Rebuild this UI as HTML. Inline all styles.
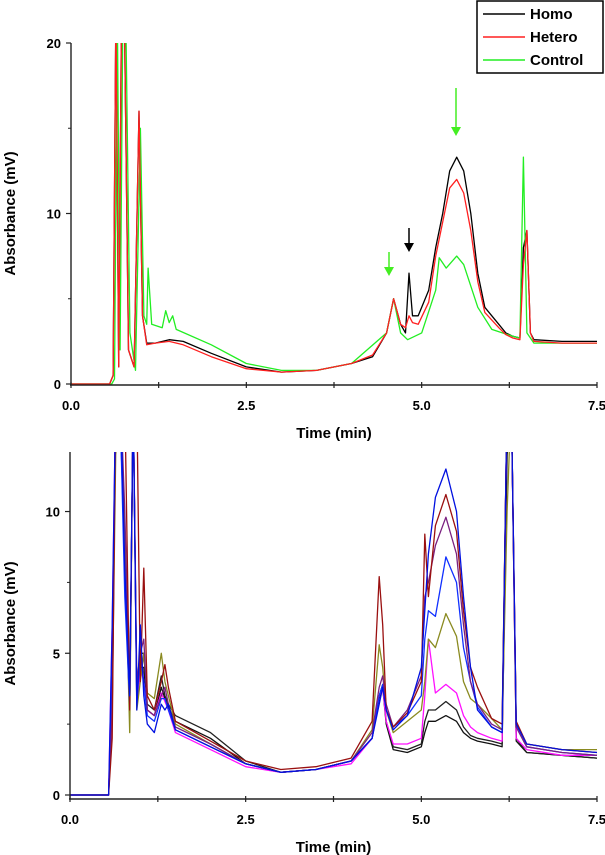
<!DOCTYPE html>
<html><head><meta charset="utf-8"><style>
html,body{margin:0;padding:0;background:#fff;}
svg{display:block;font-family:"Liberation Sans",sans-serif;}
</style></head><body>
<svg id="chart" width="605" height="855" viewBox="0 0 605 855" xmlns="http://www.w3.org/2000/svg"></svg>
<script>
// ---- Top chart data ----
const topSeriesNames = ["Homo","Hetero","Control"];
const homoT =   [0,0.55,0.6,0.64,0.68,0.72,0.76,0.82,0.9,0.97,1.02,1.08,1.2,1.4,1.6,2.0,2.5,3.0,3.5,4.0,4.3,4.5,4.6,4.7,4.77,4.82,4.87,4.95,5.1,5.2,5.3,5.4,5.5,5.6,5.7,5.8,5.9,6.1,6.2,6.3,6.4,6.45,6.5,6.55,6.6,7.0,7.5];
const homoV =   [0,0,0.5,22,1,22,22,2,1,16,4,2.4,2.4,2.6,2.5,1.8,1.0,0.7,0.8,1.2,1.6,3.0,5.0,3.5,3.0,6.5,4.0,4.0,5.5,8,10,12.5,13.3,12.5,10,6.5,4.5,3.5,3.0,2.8,2.7,8,9,3,2.6,2.5,2.5];
const heteroT = [0,0.55,0.6,0.64,0.68,0.72,0.76,0.82,0.9,0.97,1.02,1.08,1.2,1.4,1.6,2.0,2.5,3.0,3.5,4.0,4.3,4.5,4.6,4.7,4.77,4.82,4.87,4.95,5.1,5.2,5.3,5.4,5.5,5.6,5.7,5.8,5.9,6.1,6.2,6.3,6.4,6.45,6.5,6.55,6.6,7.0,7.5];
const heteroV = [0,0,0.5,22,1,22,22,2,1,16,4,2.3,2.4,2.5,2.3,1.6,0.9,0.7,0.8,1.2,1.7,3.0,5.0,3.5,3.3,4.0,3.6,3.5,4.8,7.5,9.5,11.5,12.0,11.2,9,6.0,4.2,3.3,2.9,2.7,2.6,7,9,3,2.5,2.4,2.4];
const controlT =[0,0.58,0.62,0.66,0.7,0.74,0.78,0.84,0.92,0.99,1.04,1.08,1.1,1.15,1.3,1.35,1.4,1.45,1.5,2.0,2.5,3.0,3.5,4.0,4.5,4.6,4.7,4.8,5.0,5.2,5.25,5.35,5.5,5.6,5.8,6.0,6.3,6.4,6.45,6.5,6.6,7.0,7.5];
const controlV =[0,0,0.3,22,2,22,22,3,0.8,15,4,3.5,6.8,3.5,3.3,4.3,3.6,4.0,3.2,2.3,1.2,0.8,0.8,1.2,3.0,5.0,3.0,2.6,3.0,5.5,7.4,6.8,7.5,7.0,4.5,3.2,2.8,2.7,13.3,3,2.4,2.4,2.4];
const topYTicks = [0,10,20];
const xTicks = [0.0,2.5,5.0,7.5];
const xTickLabels = ["0.0","2.5","5.0","7.5"];
// ---- Bottom chart data ----
const botT = [0,0.55,0.6,0.65,0.72,0.78,0.85,0.9,0.95,1.0,1.05,1.1,1.2,1.3,1.35,1.4,1.5,2.0,2.5,3.0,3.5,4.0,4.3,4.4,4.45,4.5,4.6,4.8,5.0,5.05,5.1,5.2,5.35,5.5,5.6,5.7,5.8,6.0,6.15,6.22,6.28,6.35,6.5,7.0,7.5];
const blueV =    [0,0,6,14,14,8,3.5,14,3,6,3.5,2.5,2.2,3.2,3.0,3.2,2.3,1.7,1.1,0.8,0.9,1.2,2.0,3.2,3.8,3.0,2.3,2.8,4.5,6.5,8.5,10.5,11.5,10,7,4.5,3.0,2.4,2.2,14,14,2.5,1.8,1.6,1.5];
const darkredV = [0,0,2,14,14,14,3,14,14,4,8,3.5,3.0,4.0,4.6,3.8,2.6,1.9,1.2,0.9,1.0,1.3,2.6,7.7,6,3,2.4,2.9,4.0,9.2,7,9.5,10.6,9.3,6.5,4.5,3.8,2.7,2.5,14,14,2.6,1.8,1.6,1.5];
const purpleV =  [0,0,3,14,14,10,3.5,14,4,5,5.5,3,2.8,3.5,3.8,3.2,2.4,1.8,1.1,0.8,0.9,1.2,2.2,3.8,4.2,3.2,2.4,3.0,4.2,7.0,7.5,8.8,9.8,8.5,6.0,4.0,3.2,2.5,2.3,14,14,2.4,1.7,1.5,1.4];
const blue2V =   [0,0,4,14,13,7,3.2,14,3.2,5,4,2.8,2.6,3.4,3.4,3.0,2.3,1.7,1.1,0.8,0.9,1.2,2.0,3.5,3.9,3.0,2.4,2.8,3.5,5.5,6.5,6.3,8.4,7.5,5.2,4.0,3.1,2.4,2.2,14,14,2.4,1.7,1.5,1.4];
const oliveV =   [0,0,3,12,14,9,2.2,14,3,4,5,3.6,3.4,5.0,4,3.5,2.5,1.8,1.1,0.8,0.9,1.2,2.3,5.3,4.5,3.0,2.2,2.6,3.0,4.0,5.5,5.2,6.4,5.6,4.0,3.4,3.2,2.7,2.3,10,14,2.5,1.8,1.6,1.6];
const magentaV = [0,0,6,14,14,8,3,14,3.2,4.5,4,3,2.8,3.6,3.3,3.0,2.2,1.6,1.0,0.8,0.9,1.1,2.0,3.5,3.8,2.6,1.8,1.8,2.0,3.5,5.5,3.6,3.9,3.6,2.8,2.4,2.2,2.0,1.9,14,14,2.0,1.6,1.4,1.4];
const blackV =   [0,0,4,14,14,9,3,14,3.5,5,5,3.2,3.0,4.2,3.5,3.2,2.8,2.2,1.2,0.8,0.9,1.2,2.0,3.5,3.9,2.6,1.7,1.6,1.8,2.6,3.0,3.0,3.3,3.0,2.4,2.1,2.0,1.9,1.8,14,14,2.0,1.5,1.4,1.3];
const black2V =  [0,0,4,14,13,8,3,14,3.4,4.5,4.5,3,2.8,3.8,3.4,3.1,2.6,2.0,1.1,0.8,0.9,1.2,2.0,3.4,3.8,2.5,1.6,1.5,1.7,2.2,2.6,2.6,2.8,2.6,2.2,2.0,1.9,1.8,1.7,12,14,1.9,1.5,1.4,1.3];
const botYTicks = [0,5,10];

const NS="http://www.w3.org/2000/svg";
const svgRoot=document.getElementById('chart');
function mk(tag,attrs,parent){const e=document.createElementNS(NS,tag);for(const k in attrs)e.setAttribute(k,attrs[k]);(parent||svgRoot).appendChild(e);return e;}

function panel(p){
  const g=mk('g',{});
  
  
  const xs=t=>p.x0+(t/7.5)*(p.x1-p.x0);
  const ys=v=>p.y0-(v/p.ymax)*(p.y0-p.ytop);
  const cp=mk('clipPath',{id:p.name+'-clip'},g);
  mk('rect',{x:p.x0,y:p.ytop,width:p.x1-p.x0+4,height:p.axY-p.ytop},cp);
  for(const s of p.series){
    const pts=s.t.map((t,i)=>xs(t).toFixed(1)+','+ys(s.v[i]).toFixed(1)).join(' ');
    const pl=mk('polyline',{points:pts,fill:'none',stroke:s.color,'stroke-width':1.3,'clip-path':'url(#'+p.name+'-clip)','stroke-linejoin':'round'},g);
    
    
  }
  const ax=mk('path',{d:`M${p.x0},${p.ytop}V${p.axY}M${p.x0-1},${p.axY}H${p.x1}`,stroke:'#222','stroke-width':1.4,fill:'none'},g);
  
  
  for(let i=0;i<=6;i++){const t=i*1.25;mk('line',{x1:xs(t),x2:xs(t),y1:p.axY-3,y2:p.axY+3,stroke:'#222','stroke-width':1.2},g);}
  xTicks.forEach((t,i)=>{const tx=mk('text',{x:xs(t),y:p.axY+25,'font-size':13,'font-weight':'bold','text-anchor':'middle'},g);tx.textContent=xTickLabels[i];
    
    });
  p.yticks.forEach(v=>{mk('line',{x1:p.x0-5,x2:p.x0,y1:ys(v),y2:ys(v),stroke:'#222','stroke-width':1.2},g);
    const tx=mk('text',{x:p.x0-10,y:ys(v)+5,'font-size':13,'font-weight':'bold','text-anchor':'end'},g);tx.textContent=String(v);
    
    });
  for(let i=0;i<p.yticks.length-1;i++){const v=(p.yticks[i]+p.yticks[i+1])/2;mk('line',{x1:p.x0-3,x2:p.x0,y1:ys(v),y2:ys(v),stroke:'#222'},g);}
  const xt=mk('text',{x:(p.x0+p.x1)/2,y:p.axY+53,'font-size':15,'font-weight':'bold','text-anchor':'middle'},g);xt.textContent='Time (min)';
  
  
  const yt=mk('text',{x:0,y:0,'font-size':15,'font-weight':'bold','text-anchor':'middle',transform:`translate(15,${(p.y0+p.ytop)/2}) rotate(-90)`},g);yt.textContent='Absorbance (mV)';
  
  
  return {xs,ys,g};
}

const topPanel=panel({name:'top-chart',x0:71,x1:597,y0:384,axY:385,ytop:43,ymax:20,yticks:topYTicks,
  series:[{id:'homo-line',t:homoT,v:homoV,color:'#000'},{id:'control-line',t:controlT,v:controlV,color:'#22ee22'},{id:'hetero-line',t:heteroT,v:heteroV,color:'#ff2020'}]});
const botPanel=panel({name:'bottom-chart',x0:70,x1:597,y0:795,axY:799,ytop:452,ymax:12.1,yticks:botYTicks,
  series:[{id:'black2-line',t:botT,v:black2V,color:'#111'},{id:'black-line',t:botT,v:blackV,color:'#222'},{id:'magenta-line',t:botT,v:magentaV,color:'#ff10ff'},{id:'olive-line',t:botT,v:oliveV,color:'#8a8a20'},{id:'blue2-line',t:botT,v:blue2V,color:'#1030ff'},{id:'purple-line',t:botT,v:purpleV,color:'#7a2080'},{id:'darkred-line',t:botT,v:darkredV,color:'#9a1010'},{id:'blue-line',t:botT,v:blueV,color:'#0010e0'}]});

// arrows
function arrow(name,x,y1,y2,color){
  const g=mk('g',{});
  
  
  mk('line',{x1:x,x2:x,y1:y1,y2:y2-6,stroke:color,'stroke-width':1.5},g);
  mk('polygon',{points:`${x-5},${y2-9} ${x+5},${y2-9} ${x},${y2}`,fill:color},g);
}
arrow('arrow-peak-4-5',389,252,276,'#44ee22');
arrow('arrow-peak-4-8',409,228,252,'#000');
arrow('arrow-peak-5-5',456,88,136,'#44ee22');

// legend
const lg=mk('g',{});


mk('rect',{x:477,y:1,width:126,height:72,fill:'#fff',stroke:'#000','stroke-width':1.5},lg);
[['Homo','#000'],['Hetero','#ff2020'],['Control','#22ee22']].forEach((e,i)=>{
  const y=17+i*23;
  const ln=mk('line',{x1:483,x2:525,y1:y-3,y2:y-3,stroke:e[1],'stroke-width':1.5},lg);
  
  
  const tx=mk('text',{x:530,y:y+2,'font-size':15,'font-weight':'bold'},lg);tx.textContent=e[0];
  
  
});
</script>
</body></html>
